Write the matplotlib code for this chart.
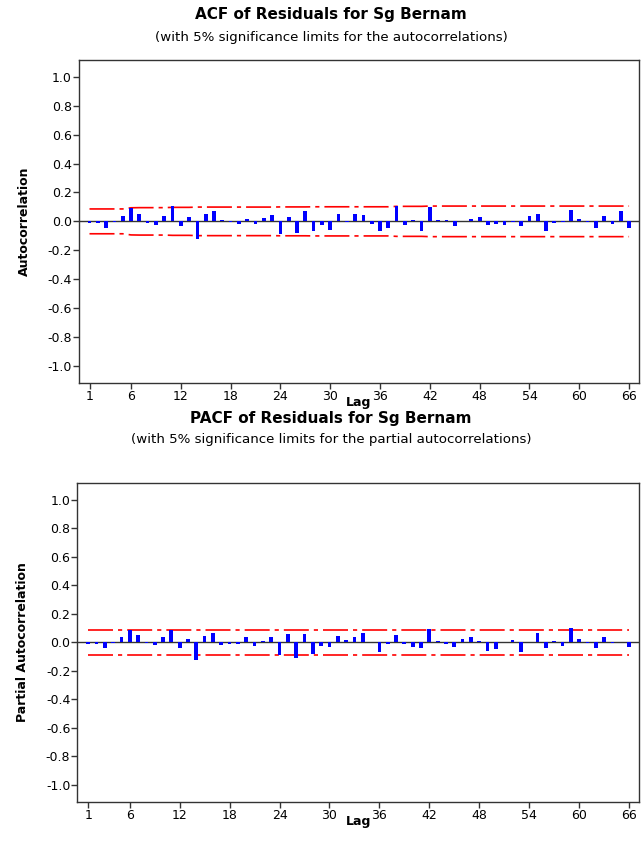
import matplotlib
matplotlib.use("Agg")
import matplotlib.pyplot as plt
import numpy as np

plt.rcParams['font.family'] = ['DejaVu Sans']

lags = list(range(1, 67))

acf_values = [
    -0.010, -0.010, -0.045, -0.005, 0.040, 0.090, 0.050, -0.010, -0.025, 0.040,
    0.105, -0.035, 0.030, -0.125, 0.050, 0.075, 0.010, -0.004, -0.015, 0.015,
    -0.015, 0.025, 0.045, -0.085, 0.027, -0.080, 0.070, -0.068, -0.027, -0.060,
    0.053, -0.005, 0.053, 0.045, -0.020, -0.068, -0.045, 0.105, -0.027, 0.010,
    -0.070, 0.098, 0.009, 0.008, -0.035, 0.005, 0.018, 0.030, -0.025, -0.020,
    -0.027, -0.005, -0.035, 0.040, 0.053, -0.068, -0.013, -0.004, 0.080, 0.018,
    -0.005, -0.045, 0.040, -0.020, 0.070, -0.045]

acf_limits = [
    0.086, 0.086, 0.086, 0.086, 0.086, 0.094, 0.095, 0.095, 0.095, 0.095,
    0.097, 0.097, 0.097, 0.099, 0.099, 0.099, 0.099, 0.099, 0.099, 0.099,
    0.099, 0.099, 0.099, 0.100, 0.100, 0.100, 0.100, 0.101, 0.101, 0.101,
    0.101, 0.101, 0.101, 0.101, 0.101, 0.101, 0.101, 0.104, 0.104, 0.104,
    0.104, 0.106, 0.106, 0.106, 0.106, 0.106, 0.106, 0.106, 0.106, 0.106,
    0.106, 0.106, 0.106, 0.106, 0.106, 0.106, 0.106, 0.106, 0.106, 0.106,
    0.106, 0.106, 0.106, 0.106, 0.106, 0.106]

pacf_values = [
    -0.010, -0.010, -0.040, -0.003, 0.035, 0.090, 0.052, -0.005, -0.018, 0.035,
    0.090, -0.040, 0.027, -0.125, 0.043, 0.068, -0.016, -0.010, -0.010, 0.035,
    -0.025, 0.008, 0.035, -0.087, 0.062, -0.110, 0.062, -0.082, -0.025, -0.035,
    0.043, 0.020, 0.035, 0.068, 0.005, -0.070, -0.010, 0.052, -0.012, -0.030,
    -0.040, 0.094, 0.008, -0.012, -0.035, 0.027, 0.035, 0.012, -0.060, -0.048,
    0.004, 0.020, -0.070, 0.004, 0.068, -0.040, 0.012, -0.025, 0.100, 0.027,
    -0.004, -0.040, 0.035, -0.004, 0.004, -0.035]

pacf_limit = 0.086

xtick_vals = [1, 6, 12, 18, 24, 30, 36, 42, 48, 54, 60, 66]
ytick_vals = [1.0, 0.8, 0.6, 0.4, 0.2, 0.0, -0.2, -0.4, -0.6, -0.8, -1.0]
ytick_labels = ["1.0", "0.8", "0.6", "0.4", "0.2", "0.0", "-0.2", "-0.4", "-0.6", "-0.8", "-1.0"]

titles = ["ACF of Residuals for Sg Bernam", "PACF of Residuals for Sg Bernam"]
subtitles = ["(with 5% significance limits for the autocorrelations)",
             "(with 5% significance limits for the partial autocorrelations)"]
ylabels = ["Autocorrelation", "Partial Autocorrelation"]

fig = plt.figure(figsize=(6.41, 8.46), dpi=100)
ax1 = fig.add_axes([0.1228, 0.5473, 0.8741, 0.3821])
ax2 = fig.add_axes([0.1206, 0.052, 0.8763, 0.3774])

dash = (0, (15, 3, 2.5, 3))

def style(ax, ylabel):
    ax.set_xlim(-0.3, 67.2)
    ax.set_ylim(-1.12, 1.12)
    ax.set_xticks(xtick_vals)
    ax.set_xticklabels([str(v) for v in xtick_vals], fontsize=9)
    ax.set_yticks(ytick_vals)
    ax.set_yticklabels(ytick_labels, fontsize=9)
    ax.tick_params(direction='out', length=4.5, width=1, color='#333333', pad=0.5)
    for s in ax.spines.values():
        s.set_color('#333333')
        s.set_linewidth(1)
    ax.set_xlabel("Lag", fontsize=9, fontweight='bold', labelpad=-5)
    ax.set_ylabel(ylabel, fontsize=9, fontweight='bold', labelpad=12)
    ax.axhline(0, color='#333333', lw=1, zorder=2)

ax1.bar(lags, acf_values, width=0.45, color='#0000ff', zorder=3)
ax1.plot(lags, acf_limits, color='#ff0000', lw=1.2, linestyle=dash, zorder=1)
ax1.plot(lags, [-v for v in acf_limits], color='#ff0000', lw=1.2, linestyle=dash, zorder=1)
style(ax1, ylabels[0])

ax2.bar(lags, pacf_values, width=0.45, color='#0000ff', zorder=3)
ax2.plot(lags, [pacf_limit] * len(lags), color='#ff0000', lw=1.2, linestyle=dash, zorder=1)
ax2.plot(lags, [-pacf_limit] * len(lags), color='#ff0000', lw=1.2, linestyle=dash, zorder=1)
style(ax2, ylabels[1])

cx = 331 / 641
fig.text(cx, 1 - 14 / 846, titles[0], ha='center', va='center', fontsize=11, fontweight='bold')
fig.text(cx, 1 - 38 / 846, subtitles[0], ha='center', va='center', fontsize=9.6)
fig.text(cx, 1 - 418 / 846, titles[1], ha='center', va='center', fontsize=11, fontweight='bold')
fig.text(cx, 1 - 439 / 846, subtitles[1], ha='center', va='center', fontsize=9.6)

fig.savefig("out.png", dpi=100)
